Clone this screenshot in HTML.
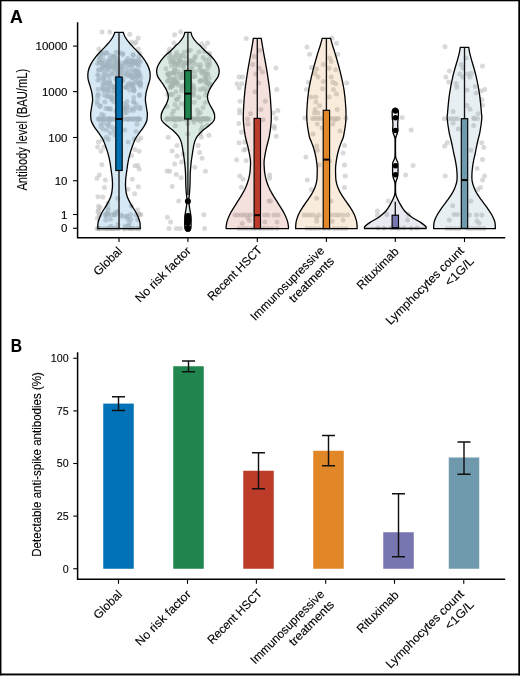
<!DOCTYPE html>
<html><head><meta charset="utf-8"><style>
html,body{margin:0;padding:0;background:#fff;}
svg{display:block;will-change:transform;}
text{font-family:"Liberation Sans", sans-serif;fill:#000;stroke:#000;stroke-width:0.12px;}
</style></head><body>
<svg width="520" height="680" viewBox="0 0 520 680">
<rect x="0" y="0" width="520" height="1.3" fill="#000"/><rect x="0" y="0" width="1.45" height="675.4" fill="#000"/><rect x="518.3" y="0" width="1.7" height="675.4" fill="#000"/><rect x="0" y="673.5" width="520" height="1.9" fill="#000"/>
<text x="10.1" y="22.5" font-size="17.7" font-weight="bold">A</text>
<text x="10.7" y="352.3" font-size="17.7" font-weight="bold" transform="translate(10.7,352.3) scale(0.88,1) translate(-10.7,-352.3)">B</text>
<g fill="#c0c0c0" fill-opacity="0.6">
<circle cx="102.0" cy="32.0" r="2.5"/>
<circle cx="109.7" cy="32.0" r="2.5"/>
<circle cx="129.8" cy="34.3" r="2.5"/>
<circle cx="138.3" cy="38.1" r="2.5"/>
<circle cx="134.5" cy="43.5" r="2.5"/>
<circle cx="131.4" cy="42.0" r="2.5"/>
<circle cx="98.9" cy="49.0" r="2.5"/>
<circle cx="138.3" cy="49.0" r="2.5"/>
<circle cx="139.9" cy="53.6" r="2.5"/>
<circle cx="136.0" cy="42.0" r="2.5"/>
<circle cx="98.5" cy="142.0" r="2.5"/>
<circle cx="97.7" cy="147.0" r="2.5"/>
<circle cx="101.0" cy="151.3" r="2.5"/>
<circle cx="101.9" cy="164.8" r="2.5"/>
<circle cx="99.4" cy="175.0" r="2.5"/>
<circle cx="105.3" cy="180.0" r="2.5"/>
<circle cx="104.4" cy="187.6" r="2.5"/>
<circle cx="102.8" cy="196.9" r="2.5"/>
<circle cx="98.5" cy="206.2" r="2.5"/>
<circle cx="99.4" cy="215.5" r="2.5"/>
<circle cx="138.3" cy="140.3" r="2.5"/>
<circle cx="134.9" cy="149.6" r="2.5"/>
<circle cx="139.1" cy="151.3" r="2.5"/>
<circle cx="131.5" cy="155.5" r="2.5"/>
<circle cx="134.9" cy="165.7" r="2.5"/>
<circle cx="139.1" cy="169.0" r="2.5"/>
<circle cx="132.3" cy="179.2" r="2.5"/>
<circle cx="138.3" cy="186.8" r="2.5"/>
<circle cx="128.1" cy="189.3" r="2.5"/>
<circle cx="103.6" cy="54.6" r="2.5"/>
<circle cx="100.2" cy="57.2" r="2.5"/>
<circle cx="113.1" cy="56.3" r="2.5"/>
<circle cx="119.3" cy="52.5" r="2.5"/>
<circle cx="116.1" cy="52.3" r="2.5"/>
<circle cx="101.0" cy="52.6" r="2.5"/>
<circle cx="133.4" cy="55.4" r="2.5"/>
<circle cx="106.8" cy="53.0" r="2.5"/>
<circle cx="138.7" cy="57.0" r="2.5"/>
<circle cx="114.5" cy="56.6" r="2.5"/>
<circle cx="99.0" cy="59.8" r="2.5"/>
<circle cx="109.7" cy="58.9" r="2.5"/>
<circle cx="102.2" cy="53.2" r="2.5"/>
<circle cx="132.9" cy="54.5" r="2.5"/>
<circle cx="122.6" cy="53.4" r="2.5"/>
<circle cx="113.4" cy="57.1" r="2.5"/>
<circle cx="99.8" cy="56.4" r="2.5"/>
<circle cx="106.1" cy="52.5" r="2.5"/>
<circle cx="115.8" cy="57.4" r="2.5"/>
<circle cx="122.8" cy="54.5" r="2.5"/>
<circle cx="110.2" cy="55.6" r="2.5"/>
<circle cx="127.8" cy="58.4" r="2.5"/>
<circle cx="122.3" cy="66.8" r="2.5"/>
<circle cx="135.5" cy="74.7" r="2.5"/>
<circle cx="109.7" cy="80.4" r="2.5"/>
<circle cx="102.2" cy="87.4" r="2.5"/>
<circle cx="130.3" cy="71.7" r="2.5"/>
<circle cx="118.5" cy="64.3" r="2.5"/>
<circle cx="126.4" cy="61.1" r="2.5"/>
<circle cx="122.2" cy="81.4" r="2.5"/>
<circle cx="110.8" cy="84.5" r="2.5"/>
<circle cx="123.2" cy="79.5" r="2.5"/>
<circle cx="117.1" cy="76.2" r="2.5"/>
<circle cx="138.6" cy="83.5" r="2.5"/>
<circle cx="126.2" cy="73.3" r="2.5"/>
<circle cx="127.9" cy="61.7" r="2.5"/>
<circle cx="140.7" cy="78.1" r="2.5"/>
<circle cx="109.5" cy="83.0" r="2.5"/>
<circle cx="126.4" cy="70.8" r="2.5"/>
<circle cx="117.3" cy="60.6" r="2.5"/>
<circle cx="102.2" cy="64.7" r="2.5"/>
<circle cx="130.8" cy="61.7" r="2.5"/>
<circle cx="107.9" cy="63.6" r="2.5"/>
<circle cx="135.3" cy="70.9" r="2.5"/>
<circle cx="116.8" cy="62.3" r="2.5"/>
<circle cx="135.9" cy="75.4" r="2.5"/>
<circle cx="135.0" cy="82.9" r="2.5"/>
<circle cx="115.3" cy="67.8" r="2.5"/>
<circle cx="135.9" cy="70.0" r="2.5"/>
<circle cx="103.6" cy="86.8" r="2.5"/>
<circle cx="107.2" cy="64.9" r="2.5"/>
<circle cx="118.3" cy="66.5" r="2.5"/>
<circle cx="108.6" cy="76.5" r="2.5"/>
<circle cx="115.4" cy="60.1" r="2.5"/>
<circle cx="121.9" cy="70.3" r="2.5"/>
<circle cx="127.4" cy="86.7" r="2.5"/>
<circle cx="124.2" cy="74.4" r="2.5"/>
<circle cx="99.4" cy="78.9" r="2.5"/>
<circle cx="131.3" cy="85.2" r="2.5"/>
<circle cx="132.1" cy="84.5" r="2.5"/>
<circle cx="114.6" cy="71.0" r="2.5"/>
<circle cx="124.9" cy="62.9" r="2.5"/>
<circle cx="100.0" cy="61.7" r="2.5"/>
<circle cx="104.1" cy="65.8" r="2.5"/>
<circle cx="99.3" cy="69.5" r="2.5"/>
<circle cx="103.7" cy="60.0" r="2.5"/>
<circle cx="113.0" cy="62.8" r="2.5"/>
<circle cx="135.5" cy="60.7" r="2.5"/>
<circle cx="103.5" cy="77.2" r="2.5"/>
<circle cx="112.3" cy="67.1" r="2.5"/>
<circle cx="102.4" cy="70.2" r="2.5"/>
<circle cx="140.7" cy="83.8" r="2.5"/>
<circle cx="118.3" cy="73.0" r="2.5"/>
<circle cx="101.5" cy="62.4" r="2.5"/>
<circle cx="108.6" cy="69.6" r="2.5"/>
<circle cx="104.1" cy="83.2" r="2.5"/>
<circle cx="138.8" cy="60.6" r="2.5"/>
<circle cx="103.5" cy="74.8" r="2.5"/>
<circle cx="98.2" cy="75.2" r="2.5"/>
<circle cx="140.1" cy="74.8" r="2.5"/>
<circle cx="127.6" cy="84.2" r="2.5"/>
<circle cx="113.1" cy="67.3" r="2.5"/>
<circle cx="131.0" cy="64.7" r="2.5"/>
<circle cx="131.3" cy="74.9" r="2.5"/>
<circle cx="106.8" cy="69.2" r="2.5"/>
<circle cx="140.3" cy="82.7" r="2.5"/>
<circle cx="132.5" cy="83.9" r="2.5"/>
<circle cx="129.6" cy="82.9" r="2.5"/>
<circle cx="119.8" cy="66.3" r="2.5"/>
<circle cx="98.3" cy="70.0" r="2.5"/>
<circle cx="109.3" cy="60.8" r="2.5"/>
<circle cx="127.5" cy="67.3" r="2.5"/>
<circle cx="116.7" cy="86.8" r="2.5"/>
<circle cx="140.5" cy="86.2" r="2.5"/>
<circle cx="113.0" cy="86.7" r="2.5"/>
<circle cx="107.0" cy="66.2" r="2.5"/>
<circle cx="106.0" cy="65.5" r="2.5"/>
<circle cx="136.6" cy="77.5" r="2.5"/>
<circle cx="118.1" cy="83.5" r="2.5"/>
<circle cx="132.2" cy="78.3" r="2.5"/>
<circle cx="126.1" cy="62.4" r="2.5"/>
<circle cx="131.4" cy="85.5" r="2.5"/>
<circle cx="118.0" cy="81.0" r="2.5"/>
<circle cx="131.7" cy="65.0" r="2.5"/>
<circle cx="132.2" cy="69.3" r="2.5"/>
<circle cx="114.4" cy="87.2" r="2.5"/>
<circle cx="138.7" cy="71.2" r="2.5"/>
<circle cx="104.5" cy="80.3" r="2.5"/>
<circle cx="103.7" cy="63.6" r="2.5"/>
<circle cx="132.5" cy="85.3" r="2.5"/>
<circle cx="133.4" cy="64.1" r="2.5"/>
<circle cx="125.9" cy="87.4" r="2.5"/>
<circle cx="121.1" cy="69.8" r="2.5"/>
<circle cx="97.6" cy="63.7" r="2.5"/>
<circle cx="125.6" cy="87.2" r="2.5"/>
<circle cx="138.1" cy="74.7" r="2.5"/>
<circle cx="135.4" cy="72.1" r="2.5"/>
<circle cx="106.3" cy="83.1" r="2.5"/>
<circle cx="109.9" cy="67.1" r="2.5"/>
<circle cx="122.8" cy="66.7" r="2.5"/>
<circle cx="115.4" cy="67.3" r="2.5"/>
<circle cx="137.0" cy="63.7" r="2.5"/>
<circle cx="117.2" cy="69.9" r="2.5"/>
<circle cx="136.8" cy="76.3" r="2.5"/>
<circle cx="137.4" cy="71.8" r="2.5"/>
<circle cx="120.4" cy="74.0" r="2.5"/>
<circle cx="97.8" cy="74.7" r="2.5"/>
<circle cx="105.1" cy="72.3" r="2.5"/>
<circle cx="132.2" cy="60.1" r="2.5"/>
<circle cx="117.8" cy="64.8" r="2.5"/>
<circle cx="121.5" cy="80.3" r="2.5"/>
<circle cx="119.8" cy="69.1" r="2.5"/>
<circle cx="131.5" cy="75.6" r="2.5"/>
<circle cx="121.7" cy="63.0" r="2.5"/>
<circle cx="109.2" cy="67.0" r="2.5"/>
<circle cx="119.3" cy="81.6" r="2.5"/>
<circle cx="130.4" cy="75.7" r="2.5"/>
<circle cx="116.5" cy="85.5" r="2.5"/>
<circle cx="119.2" cy="77.2" r="2.5"/>
<circle cx="127.5" cy="74.3" r="2.5"/>
<circle cx="120.5" cy="72.7" r="2.5"/>
<circle cx="138.4" cy="73.4" r="2.5"/>
<circle cx="135.6" cy="79.6" r="2.5"/>
<circle cx="108.4" cy="86.4" r="2.5"/>
<circle cx="138.5" cy="75.7" r="2.5"/>
<circle cx="103.0" cy="83.5" r="2.5"/>
<circle cx="116.5" cy="63.4" r="2.5"/>
<circle cx="107.6" cy="62.0" r="2.5"/>
<circle cx="126.5" cy="62.0" r="2.5"/>
<circle cx="136.5" cy="82.0" r="2.5"/>
<circle cx="128.5" cy="64.3" r="2.5"/>
<circle cx="103.3" cy="78.5" r="2.5"/>
<circle cx="139.6" cy="84.7" r="2.5"/>
<circle cx="138.9" cy="66.1" r="2.5"/>
<circle cx="118.4" cy="71.2" r="2.5"/>
<circle cx="133.6" cy="87.7" r="2.5"/>
<circle cx="116.0" cy="64.5" r="2.5"/>
<circle cx="111.9" cy="74.4" r="2.5"/>
<circle cx="111.0" cy="65.5" r="2.5"/>
<circle cx="97.9" cy="80.2" r="2.5"/>
<circle cx="116.4" cy="75.5" r="2.5"/>
<circle cx="111.6" cy="60.5" r="2.5"/>
<circle cx="119.5" cy="77.5" r="2.5"/>
<circle cx="140.3" cy="61.8" r="2.5"/>
<circle cx="139.8" cy="82.1" r="2.5"/>
<circle cx="108.7" cy="62.9" r="2.5"/>
<circle cx="131.3" cy="61.1" r="2.5"/>
<circle cx="102.7" cy="67.6" r="2.5"/>
<circle cx="137.1" cy="71.8" r="2.5"/>
<circle cx="108.4" cy="82.9" r="2.5"/>
<circle cx="137.4" cy="64.2" r="2.5"/>
<circle cx="127.8" cy="76.0" r="2.5"/>
<circle cx="99.5" cy="62.5" r="2.5"/>
<circle cx="115.7" cy="79.3" r="2.5"/>
<circle cx="138.3" cy="62.0" r="2.5"/>
<circle cx="132.3" cy="77.8" r="2.5"/>
<circle cx="134.7" cy="62.3" r="2.5"/>
<circle cx="135.0" cy="61.9" r="2.5"/>
<circle cx="111.9" cy="72.7" r="2.5"/>
<circle cx="137.8" cy="75.5" r="2.5"/>
<circle cx="102.7" cy="67.5" r="2.5"/>
<circle cx="107.5" cy="74.8" r="2.5"/>
<circle cx="104.1" cy="91.1" r="2.5"/>
<circle cx="105.9" cy="89.4" r="2.5"/>
<circle cx="110.4" cy="96.7" r="2.5"/>
<circle cx="109.8" cy="109.3" r="2.5"/>
<circle cx="104.8" cy="102.0" r="2.5"/>
<circle cx="97.8" cy="97.7" r="2.5"/>
<circle cx="97.7" cy="95.0" r="2.5"/>
<circle cx="121.2" cy="108.5" r="2.5"/>
<circle cx="117.9" cy="93.3" r="2.5"/>
<circle cx="101.7" cy="114.2" r="2.5"/>
<circle cx="116.0" cy="110.9" r="2.5"/>
<circle cx="133.7" cy="101.9" r="2.5"/>
<circle cx="119.3" cy="99.0" r="2.5"/>
<circle cx="140.2" cy="107.3" r="2.5"/>
<circle cx="133.6" cy="97.6" r="2.5"/>
<circle cx="125.0" cy="107.8" r="2.5"/>
<circle cx="112.3" cy="99.3" r="2.5"/>
<circle cx="102.7" cy="89.5" r="2.5"/>
<circle cx="129.6" cy="90.0" r="2.5"/>
<circle cx="104.2" cy="95.2" r="2.5"/>
<circle cx="134.0" cy="90.4" r="2.5"/>
<circle cx="126.5" cy="112.4" r="2.5"/>
<circle cx="107.7" cy="95.9" r="2.5"/>
<circle cx="117.2" cy="96.2" r="2.5"/>
<circle cx="116.6" cy="92.4" r="2.5"/>
<circle cx="139.3" cy="95.4" r="2.5"/>
<circle cx="121.1" cy="115.2" r="2.5"/>
<circle cx="139.5" cy="94.8" r="2.5"/>
<circle cx="112.7" cy="96.7" r="2.5"/>
<circle cx="113.8" cy="88.0" r="2.5"/>
<circle cx="119.1" cy="101.3" r="2.5"/>
<circle cx="119.2" cy="93.6" r="2.5"/>
<circle cx="108.6" cy="88.1" r="2.5"/>
<circle cx="114.6" cy="90.5" r="2.5"/>
<circle cx="98.0" cy="89.2" r="2.5"/>
<circle cx="107.2" cy="96.5" r="2.5"/>
<circle cx="120.3" cy="104.4" r="2.5"/>
<circle cx="125.9" cy="109.0" r="2.5"/>
<circle cx="135.7" cy="108.0" r="2.5"/>
<circle cx="111.3" cy="98.9" r="2.5"/>
<circle cx="103.6" cy="115.6" r="2.5"/>
<circle cx="125.3" cy="108.3" r="2.5"/>
<circle cx="133.8" cy="89.2" r="2.5"/>
<circle cx="124.6" cy="113.0" r="2.5"/>
<circle cx="132.7" cy="108.5" r="2.5"/>
<circle cx="120.0" cy="91.9" r="2.5"/>
<circle cx="133.7" cy="102.1" r="2.5"/>
<circle cx="133.4" cy="110.5" r="2.5"/>
<circle cx="136.3" cy="104.4" r="2.5"/>
<circle cx="127.5" cy="107.1" r="2.5"/>
<circle cx="98.4" cy="94.4" r="2.5"/>
<circle cx="112.9" cy="91.7" r="2.5"/>
<circle cx="133.8" cy="90.9" r="2.5"/>
<circle cx="124.6" cy="103.6" r="2.5"/>
<circle cx="126.9" cy="105.5" r="2.5"/>
<circle cx="97.1" cy="101.7" r="2.5"/>
<circle cx="129.9" cy="110.3" r="2.5"/>
<circle cx="120.5" cy="102.1" r="2.5"/>
<circle cx="99.9" cy="106.5" r="2.5"/>
<circle cx="108.1" cy="108.6" r="2.5"/>
<circle cx="108.7" cy="90.1" r="2.5"/>
<circle cx="106.0" cy="108.4" r="2.5"/>
<circle cx="139.9" cy="108.7" r="2.5"/>
<circle cx="113.8" cy="101.8" r="2.5"/>
<circle cx="127.1" cy="101.4" r="2.5"/>
<circle cx="124.1" cy="109.5" r="2.5"/>
<circle cx="100.4" cy="106.0" r="2.5"/>
<circle cx="108.2" cy="92.1" r="2.5"/>
<circle cx="110.4" cy="108.8" r="2.5"/>
<circle cx="97.5" cy="103.9" r="2.5"/>
<circle cx="108.8" cy="118.8" r="2.5"/>
<circle cx="127.5" cy="119.1" r="2.5"/>
<circle cx="109.8" cy="119.1" r="2.5"/>
<circle cx="117.4" cy="119.0" r="2.5"/>
<circle cx="102.2" cy="119.0" r="2.5"/>
<circle cx="105.8" cy="119.2" r="2.5"/>
<circle cx="138.2" cy="119.2" r="2.5"/>
<circle cx="117.2" cy="118.8" r="2.5"/>
<circle cx="139.6" cy="119.1" r="2.5"/>
<circle cx="108.8" cy="119.0" r="2.5"/>
<circle cx="138.6" cy="118.9" r="2.5"/>
<circle cx="122.6" cy="118.9" r="2.5"/>
<circle cx="120.1" cy="118.9" r="2.5"/>
<circle cx="102.8" cy="119.2" r="2.5"/>
<circle cx="119.4" cy="119.1" r="2.5"/>
<circle cx="127.9" cy="119.2" r="2.5"/>
<circle cx="136.5" cy="118.9" r="2.5"/>
<circle cx="98.1" cy="119.0" r="2.5"/>
<circle cx="118.6" cy="118.8" r="2.5"/>
<circle cx="110.3" cy="119.0" r="2.5"/>
<circle cx="112.1" cy="118.9" r="2.5"/>
<circle cx="134.0" cy="118.9" r="2.5"/>
<circle cx="130.0" cy="118.8" r="2.5"/>
<circle cx="102.3" cy="119.1" r="2.5"/>
<circle cx="128.4" cy="119.2" r="2.5"/>
<circle cx="109.8" cy="119.2" r="2.5"/>
<circle cx="114.3" cy="118.9" r="2.5"/>
<circle cx="122.9" cy="119.2" r="2.5"/>
<circle cx="115.8" cy="118.9" r="2.5"/>
<circle cx="99.1" cy="118.9" r="2.5"/>
<circle cx="133.7" cy="118.8" r="2.5"/>
<circle cx="138.2" cy="118.9" r="2.5"/>
<circle cx="108.7" cy="118.9" r="2.5"/>
<circle cx="105.4" cy="119.0" r="2.5"/>
<circle cx="139.1" cy="118.9" r="2.5"/>
<circle cx="132.7" cy="119.2" r="2.5"/>
<circle cx="137.2" cy="119.1" r="2.5"/>
<circle cx="121.2" cy="119.2" r="2.5"/>
<circle cx="99.2" cy="119.1" r="2.5"/>
<circle cx="116.8" cy="119.1" r="2.5"/>
<circle cx="125.4" cy="119.1" r="2.5"/>
<circle cx="99.2" cy="118.9" r="2.5"/>
<circle cx="102.6" cy="119.2" r="2.5"/>
<circle cx="112.1" cy="119.0" r="2.5"/>
<circle cx="129.5" cy="118.9" r="2.5"/>
<circle cx="108.4" cy="139.5" r="2.5"/>
<circle cx="110.2" cy="133.1" r="2.5"/>
<circle cx="114.4" cy="131.1" r="2.5"/>
<circle cx="104.1" cy="123.3" r="2.5"/>
<circle cx="136.9" cy="124.2" r="2.5"/>
<circle cx="106.7" cy="129.9" r="2.5"/>
<circle cx="140.8" cy="138.1" r="2.5"/>
<circle cx="103.1" cy="129.0" r="2.5"/>
<circle cx="101.0" cy="123.8" r="2.5"/>
<circle cx="101.0" cy="126.8" r="2.5"/>
<circle cx="108.4" cy="124.8" r="2.5"/>
<circle cx="136.0" cy="131.4" r="2.5"/>
<circle cx="115.2" cy="135.0" r="2.5"/>
<circle cx="120.1" cy="128.3" r="2.5"/>
<circle cx="111.9" cy="127.5" r="2.5"/>
<circle cx="109.2" cy="121.2" r="2.5"/>
<circle cx="102.5" cy="139.4" r="2.5"/>
<circle cx="124.7" cy="130.1" r="2.5"/>
<circle cx="106.5" cy="137.3" r="2.5"/>
<circle cx="107.9" cy="125.4" r="2.5"/>
<circle cx="116.6" cy="128.0" r="2.5"/>
<circle cx="134.3" cy="139.1" r="2.5"/>
<circle cx="98.0" cy="196.7" r="2.5"/>
<circle cx="128.2" cy="142.1" r="2.5"/>
<circle cx="117.8" cy="198.2" r="2.5"/>
<circle cx="97.0" cy="178.2" r="2.5"/>
<circle cx="137.8" cy="165.4" r="2.5"/>
<circle cx="134.6" cy="193.7" r="2.5"/>
<circle cx="107.9" cy="203.2" r="2.5"/>
<circle cx="103.8" cy="147.1" r="2.5"/>
<circle cx="127.0" cy="216.5" r="2.5"/>
<circle cx="128.8" cy="225.7" r="2.5"/>
<circle cx="130.7" cy="219.2" r="2.5"/>
<circle cx="121.3" cy="215.1" r="2.5"/>
<circle cx="131.4" cy="205.9" r="2.5"/>
<circle cx="137.5" cy="210.1" r="2.5"/>
<circle cx="110.4" cy="219.2" r="2.5"/>
<circle cx="108.1" cy="207.8" r="2.5"/>
<circle cx="127.7" cy="219.0" r="2.5"/>
<circle cx="100.1" cy="207.5" r="2.5"/>
<circle cx="122.6" cy="216.5" r="2.5"/>
<circle cx="106.8" cy="213.5" r="2.5"/>
<circle cx="97.5" cy="218.2" r="2.5"/>
<circle cx="117.3" cy="211.6" r="2.5"/>
<circle cx="125.4" cy="226.1" r="2.5"/>
<circle cx="117.9" cy="224.4" r="2.5"/>
<circle cx="107.9" cy="210.2" r="2.5"/>
<circle cx="128.0" cy="226.1" r="2.5"/>
<circle cx="98.0" cy="211.8" r="2.5"/>
<circle cx="126.7" cy="216.0" r="2.5"/>
<circle cx="108.3" cy="214.2" r="2.5"/>
<circle cx="137.7" cy="219.7" r="2.5"/>
<circle cx="98.5" cy="210.0" r="2.5"/>
<circle cx="115.5" cy="212.4" r="2.5"/>
<circle cx="105.7" cy="220.0" r="2.5"/>
<circle cx="129.5" cy="222.5" r="2.5"/>
<circle cx="106.0" cy="216.1" r="2.5"/>
<circle cx="110.7" cy="226.3" r="2.5"/>
<circle cx="107.2" cy="214.6" r="2.5"/>
<circle cx="130.5" cy="214.4" r="2.5"/>
<circle cx="138.9" cy="214.4" r="2.5"/>
<circle cx="105.2" cy="214.5" r="2.5"/>
<circle cx="115.3" cy="214.4" r="2.5"/>
<circle cx="138.7" cy="214.6" r="2.5"/>
<circle cx="114.3" cy="214.4" r="2.5"/>
<circle cx="139.9" cy="214.4" r="2.5"/>
<circle cx="99.3" cy="214.4" r="2.5"/>
<circle cx="114.3" cy="214.3" r="2.5"/>
<circle cx="135.9" cy="214.7" r="2.5"/>
<circle cx="140.9" cy="214.6" r="2.5"/>
<circle cx="111.5" cy="214.7" r="2.5"/>
<circle cx="138.2" cy="214.4" r="2.5"/>
<circle cx="98.4" cy="228.6" r="2.5"/>
<circle cx="113.7" cy="228.6" r="2.5"/>
<circle cx="111.6" cy="228.4" r="2.5"/>
<circle cx="97.1" cy="228.4" r="2.5"/>
<circle cx="112.5" cy="228.4" r="2.5"/>
<circle cx="102.4" cy="228.7" r="2.5"/>
<circle cx="106.1" cy="228.7" r="2.5"/>
<circle cx="133.1" cy="228.4" r="2.5"/>
<circle cx="116.0" cy="228.6" r="2.5"/>
<circle cx="117.8" cy="228.3" r="2.5"/>
<circle cx="137.5" cy="228.4" r="2.5"/>
<circle cx="113.0" cy="228.4" r="2.5"/>
<circle cx="98.3" cy="228.7" r="2.5"/>
<circle cx="132.7" cy="228.5" r="2.5"/>
<circle cx="98.8" cy="228.6" r="2.5"/>
<circle cx="99.8" cy="228.3" r="2.5"/>
<circle cx="108.3" cy="228.7" r="2.5"/>
<circle cx="136.5" cy="228.6" r="2.5"/>
<circle cx="109.0" cy="228.4" r="2.5"/>
<circle cx="124.1" cy="228.7" r="2.5"/>
<circle cx="128.5" cy="228.4" r="2.5"/>
<circle cx="109.1" cy="228.4" r="2.5"/>
<circle cx="130.2" cy="228.3" r="2.5"/>
<circle cx="124.9" cy="228.7" r="2.5"/>
<circle cx="98.1" cy="228.7" r="2.5"/>
<circle cx="117.9" cy="228.4" r="2.5"/>
<circle cx="139.0" cy="228.7" r="2.5"/>
<circle cx="108.0" cy="228.5" r="2.5"/>
<circle cx="118.7" cy="228.5" r="2.5"/>
<circle cx="105.0" cy="228.7" r="2.5"/>
<circle cx="129.5" cy="228.6" r="2.5"/>
<circle cx="131.0" cy="228.6" r="2.5"/>
<circle cx="111.4" cy="228.5" r="2.5"/>
<circle cx="112.9" cy="228.4" r="2.5"/>
<circle cx="174.7" cy="34.7" r="2.5"/>
<circle cx="180.7" cy="31.7" r="2.5"/>
<circle cx="174.0" cy="43.0" r="2.5"/>
<circle cx="169.5" cy="49.0" r="2.5"/>
<circle cx="201.7" cy="43.7" r="2.5"/>
<circle cx="207.7" cy="43.0" r="2.5"/>
<circle cx="204.7" cy="46.7" r="2.5"/>
<circle cx="168.2" cy="137.3" r="2.5"/>
<circle cx="177.1" cy="145.4" r="2.5"/>
<circle cx="172.2" cy="151.0" r="2.5"/>
<circle cx="177.1" cy="155.9" r="2.5"/>
<circle cx="174.7" cy="163.9" r="2.5"/>
<circle cx="176.3" cy="174.4" r="2.5"/>
<circle cx="181.1" cy="177.7" r="2.5"/>
<circle cx="172.2" cy="186.6" r="2.5"/>
<circle cx="178.7" cy="201.1" r="2.5"/>
<circle cx="167.4" cy="217.3" r="2.5"/>
<circle cx="170.6" cy="222.1" r="2.5"/>
<circle cx="169.0" cy="228.6" r="2.5"/>
<circle cx="176.3" cy="228.6" r="2.5"/>
<circle cx="180.3" cy="228.6" r="2.5"/>
<circle cx="201.3" cy="137.3" r="2.5"/>
<circle cx="198.1" cy="145.4" r="2.5"/>
<circle cx="199.7" cy="152.6" r="2.5"/>
<circle cx="202.1" cy="158.3" r="2.5"/>
<circle cx="194.9" cy="167.2" r="2.5"/>
<circle cx="205.4" cy="171.2" r="2.5"/>
<circle cx="203.8" cy="214.8" r="2.5"/>
<circle cx="204.6" cy="228.6" r="2.5"/>
<circle cx="169.4" cy="57.8" r="2.5"/>
<circle cx="199.0" cy="52.0" r="2.5"/>
<circle cx="168.7" cy="52.5" r="2.5"/>
<circle cx="190.2" cy="50.3" r="2.5"/>
<circle cx="209.0" cy="53.3" r="2.5"/>
<circle cx="209.4" cy="58.8" r="2.5"/>
<circle cx="169.6" cy="52.6" r="2.5"/>
<circle cx="187.8" cy="51.0" r="2.5"/>
<circle cx="185.6" cy="57.1" r="2.5"/>
<circle cx="184.2" cy="52.3" r="2.5"/>
<circle cx="195.6" cy="56.2" r="2.5"/>
<circle cx="203.2" cy="57.5" r="2.5"/>
<circle cx="171.2" cy="56.6" r="2.5"/>
<circle cx="178.8" cy="58.4" r="2.5"/>
<circle cx="182.3" cy="55.7" r="2.5"/>
<circle cx="174.7" cy="57.4" r="2.5"/>
<circle cx="176.7" cy="52.5" r="2.5"/>
<circle cx="204.8" cy="51.5" r="2.5"/>
<circle cx="180.3" cy="55.8" r="2.5"/>
<circle cx="209.6" cy="54.0" r="2.5"/>
<circle cx="176.1" cy="55.1" r="2.5"/>
<circle cx="194.6" cy="58.1" r="2.5"/>
<circle cx="170.4" cy="87.7" r="2.5"/>
<circle cx="201.9" cy="73.3" r="2.5"/>
<circle cx="206.1" cy="83.5" r="2.5"/>
<circle cx="178.8" cy="61.1" r="2.5"/>
<circle cx="174.2" cy="63.3" r="2.5"/>
<circle cx="191.6" cy="87.2" r="2.5"/>
<circle cx="182.3" cy="86.0" r="2.5"/>
<circle cx="185.7" cy="84.3" r="2.5"/>
<circle cx="200.1" cy="67.3" r="2.5"/>
<circle cx="170.6" cy="86.5" r="2.5"/>
<circle cx="193.2" cy="76.7" r="2.5"/>
<circle cx="182.1" cy="66.1" r="2.5"/>
<circle cx="174.9" cy="64.0" r="2.5"/>
<circle cx="192.3" cy="67.1" r="2.5"/>
<circle cx="174.9" cy="78.2" r="2.5"/>
<circle cx="180.3" cy="60.3" r="2.5"/>
<circle cx="174.0" cy="79.0" r="2.5"/>
<circle cx="174.8" cy="68.7" r="2.5"/>
<circle cx="190.0" cy="82.3" r="2.5"/>
<circle cx="170.4" cy="61.8" r="2.5"/>
<circle cx="190.1" cy="71.1" r="2.5"/>
<circle cx="169.9" cy="77.9" r="2.5"/>
<circle cx="196.5" cy="64.6" r="2.5"/>
<circle cx="178.4" cy="71.5" r="2.5"/>
<circle cx="207.8" cy="68.6" r="2.5"/>
<circle cx="190.8" cy="68.7" r="2.5"/>
<circle cx="184.2" cy="70.0" r="2.5"/>
<circle cx="209.8" cy="84.2" r="2.5"/>
<circle cx="174.6" cy="70.2" r="2.5"/>
<circle cx="174.9" cy="80.4" r="2.5"/>
<circle cx="205.6" cy="60.2" r="2.5"/>
<circle cx="202.0" cy="71.9" r="2.5"/>
<circle cx="204.7" cy="71.4" r="2.5"/>
<circle cx="173.1" cy="72.9" r="2.5"/>
<circle cx="190.2" cy="60.4" r="2.5"/>
<circle cx="205.9" cy="77.9" r="2.5"/>
<circle cx="193.3" cy="62.5" r="2.5"/>
<circle cx="188.1" cy="70.4" r="2.5"/>
<circle cx="178.4" cy="64.1" r="2.5"/>
<circle cx="206.6" cy="74.6" r="2.5"/>
<circle cx="187.5" cy="63.0" r="2.5"/>
<circle cx="208.4" cy="82.5" r="2.5"/>
<circle cx="171.5" cy="65.5" r="2.5"/>
<circle cx="208.8" cy="86.4" r="2.5"/>
<circle cx="168.2" cy="73.5" r="2.5"/>
<circle cx="183.0" cy="85.9" r="2.5"/>
<circle cx="193.2" cy="85.3" r="2.5"/>
<circle cx="173.0" cy="83.1" r="2.5"/>
<circle cx="175.7" cy="82.0" r="2.5"/>
<circle cx="203.1" cy="71.3" r="2.5"/>
<circle cx="174.0" cy="83.2" r="2.5"/>
<circle cx="183.5" cy="66.1" r="2.5"/>
<circle cx="182.8" cy="74.5" r="2.5"/>
<circle cx="176.8" cy="63.4" r="2.5"/>
<circle cx="205.4" cy="80.3" r="2.5"/>
<circle cx="190.6" cy="61.2" r="2.5"/>
<circle cx="167.6" cy="81.2" r="2.5"/>
<circle cx="171.1" cy="83.5" r="2.5"/>
<circle cx="190.1" cy="76.8" r="2.5"/>
<circle cx="179.4" cy="77.6" r="2.5"/>
<circle cx="191.5" cy="71.8" r="2.5"/>
<circle cx="194.9" cy="71.9" r="2.5"/>
<circle cx="185.2" cy="72.5" r="2.5"/>
<circle cx="193.1" cy="60.7" r="2.5"/>
<circle cx="176.3" cy="73.7" r="2.5"/>
<circle cx="200.2" cy="81.4" r="2.5"/>
<circle cx="173.8" cy="72.8" r="2.5"/>
<circle cx="170.6" cy="73.3" r="2.5"/>
<circle cx="184.8" cy="63.6" r="2.5"/>
<circle cx="185.3" cy="62.6" r="2.5"/>
<circle cx="167.7" cy="74.3" r="2.5"/>
<circle cx="169.5" cy="77.8" r="2.5"/>
<circle cx="200.1" cy="80.5" r="2.5"/>
<circle cx="168.3" cy="74.3" r="2.5"/>
<circle cx="182.5" cy="74.1" r="2.5"/>
<circle cx="171.9" cy="86.6" r="2.5"/>
<circle cx="209.7" cy="84.0" r="2.5"/>
<circle cx="201.8" cy="80.5" r="2.5"/>
<circle cx="209.1" cy="65.4" r="2.5"/>
<circle cx="208.0" cy="73.8" r="2.5"/>
<circle cx="173.2" cy="85.6" r="2.5"/>
<circle cx="206.8" cy="82.1" r="2.5"/>
<circle cx="181.3" cy="61.8" r="2.5"/>
<circle cx="172.9" cy="81.2" r="2.5"/>
<circle cx="178.0" cy="85.1" r="2.5"/>
<circle cx="172.2" cy="82.8" r="2.5"/>
<circle cx="206.4" cy="74.1" r="2.5"/>
<circle cx="177.5" cy="65.8" r="2.5"/>
<circle cx="179.9" cy="74.2" r="2.5"/>
<circle cx="173.9" cy="61.0" r="2.5"/>
<circle cx="207.1" cy="64.5" r="2.5"/>
<circle cx="205.3" cy="79.0" r="2.5"/>
<circle cx="200.4" cy="64.7" r="2.5"/>
<circle cx="189.3" cy="63.2" r="2.5"/>
<circle cx="181.7" cy="77.8" r="2.5"/>
<circle cx="190.3" cy="84.4" r="2.5"/>
<circle cx="204.7" cy="76.2" r="2.5"/>
<circle cx="209.6" cy="62.9" r="2.5"/>
<circle cx="183.2" cy="77.6" r="2.5"/>
<circle cx="177.5" cy="82.3" r="2.5"/>
<circle cx="191.3" cy="87.7" r="2.5"/>
<circle cx="199.5" cy="70.1" r="2.5"/>
<circle cx="173.7" cy="72.4" r="2.5"/>
<circle cx="168.0" cy="80.8" r="2.5"/>
<circle cx="177.1" cy="83.0" r="2.5"/>
<circle cx="209.2" cy="77.9" r="2.5"/>
<circle cx="195.1" cy="76.4" r="2.5"/>
<circle cx="166.0" cy="68.8" r="2.5"/>
<circle cx="172.5" cy="60.9" r="2.5"/>
<circle cx="184.9" cy="77.2" r="2.5"/>
<circle cx="205.3" cy="102.4" r="2.5"/>
<circle cx="175.9" cy="91.7" r="2.5"/>
<circle cx="166.9" cy="106.3" r="2.5"/>
<circle cx="181.5" cy="88.1" r="2.5"/>
<circle cx="181.6" cy="91.0" r="2.5"/>
<circle cx="191.6" cy="94.3" r="2.5"/>
<circle cx="174.9" cy="104.5" r="2.5"/>
<circle cx="186.8" cy="105.5" r="2.5"/>
<circle cx="207.1" cy="91.8" r="2.5"/>
<circle cx="172.5" cy="94.8" r="2.5"/>
<circle cx="194.0" cy="90.7" r="2.5"/>
<circle cx="200.3" cy="112.4" r="2.5"/>
<circle cx="177.5" cy="99.3" r="2.5"/>
<circle cx="194.3" cy="88.3" r="2.5"/>
<circle cx="181.3" cy="103.7" r="2.5"/>
<circle cx="185.4" cy="106.1" r="2.5"/>
<circle cx="198.2" cy="114.2" r="2.5"/>
<circle cx="205.7" cy="95.0" r="2.5"/>
<circle cx="189.3" cy="89.2" r="2.5"/>
<circle cx="176.4" cy="99.4" r="2.5"/>
<circle cx="200.2" cy="89.6" r="2.5"/>
<circle cx="190.1" cy="88.3" r="2.5"/>
<circle cx="172.2" cy="114.3" r="2.5"/>
<circle cx="192.7" cy="93.6" r="2.5"/>
<circle cx="194.1" cy="102.2" r="2.5"/>
<circle cx="173.6" cy="110.8" r="2.5"/>
<circle cx="179.1" cy="96.7" r="2.5"/>
<circle cx="205.0" cy="89.4" r="2.5"/>
<circle cx="197.4" cy="109.9" r="2.5"/>
<circle cx="203.1" cy="88.2" r="2.5"/>
<circle cx="186.4" cy="108.9" r="2.5"/>
<circle cx="185.8" cy="108.8" r="2.5"/>
<circle cx="170.5" cy="94.3" r="2.5"/>
<circle cx="167.6" cy="94.5" r="2.5"/>
<circle cx="198.9" cy="97.4" r="2.5"/>
<circle cx="203.1" cy="107.5" r="2.5"/>
<circle cx="177.6" cy="107.9" r="2.5"/>
<circle cx="185.1" cy="103.5" r="2.5"/>
<circle cx="188.9" cy="110.1" r="2.5"/>
<circle cx="194.1" cy="95.4" r="2.5"/>
<circle cx="175.4" cy="119.2" r="2.5"/>
<circle cx="166.6" cy="119.2" r="2.5"/>
<circle cx="176.3" cy="118.9" r="2.5"/>
<circle cx="207.5" cy="119.1" r="2.5"/>
<circle cx="180.3" cy="119.1" r="2.5"/>
<circle cx="180.4" cy="119.2" r="2.5"/>
<circle cx="205.8" cy="118.9" r="2.5"/>
<circle cx="196.4" cy="119.1" r="2.5"/>
<circle cx="209.0" cy="119.1" r="2.5"/>
<circle cx="202.8" cy="119.0" r="2.5"/>
<circle cx="203.6" cy="119.1" r="2.5"/>
<circle cx="197.8" cy="119.0" r="2.5"/>
<circle cx="179.4" cy="119.0" r="2.5"/>
<circle cx="193.3" cy="118.9" r="2.5"/>
<circle cx="206.0" cy="118.8" r="2.5"/>
<circle cx="167.1" cy="118.9" r="2.5"/>
<circle cx="206.8" cy="118.8" r="2.5"/>
<circle cx="172.1" cy="118.9" r="2.5"/>
<circle cx="167.7" cy="118.8" r="2.5"/>
<circle cx="193.8" cy="119.1" r="2.5"/>
<circle cx="198.3" cy="119.1" r="2.5"/>
<circle cx="191.9" cy="118.8" r="2.5"/>
<circle cx="201.9" cy="118.9" r="2.5"/>
<circle cx="205.1" cy="119.1" r="2.5"/>
<circle cx="204.1" cy="118.8" r="2.5"/>
<circle cx="207.5" cy="119.2" r="2.5"/>
<circle cx="175.0" cy="118.8" r="2.5"/>
<circle cx="167.4" cy="118.8" r="2.5"/>
<circle cx="201.6" cy="119.1" r="2.5"/>
<circle cx="202.2" cy="119.1" r="2.5"/>
<circle cx="178.5" cy="119.1" r="2.5"/>
<circle cx="170.2" cy="118.8" r="2.5"/>
<circle cx="174.9" cy="119.1" r="2.5"/>
<circle cx="184.5" cy="118.9" r="2.5"/>
<circle cx="177.2" cy="118.8" r="2.5"/>
<circle cx="197.4" cy="118.9" r="2.5"/>
<circle cx="180.0" cy="118.9" r="2.5"/>
<circle cx="188.1" cy="119.2" r="2.5"/>
<circle cx="193.1" cy="119.1" r="2.5"/>
<circle cx="184.1" cy="118.8" r="2.5"/>
<circle cx="199.9" cy="119.0" r="2.5"/>
<circle cx="196.9" cy="118.9" r="2.5"/>
<circle cx="175.4" cy="119.0" r="2.5"/>
<circle cx="169.9" cy="119.1" r="2.5"/>
<circle cx="173.4" cy="119.1" r="2.5"/>
<circle cx="174.8" cy="120.0" r="2.5"/>
<circle cx="208.9" cy="135.2" r="2.5"/>
<circle cx="187.5" cy="120.1" r="2.5"/>
<circle cx="201.0" cy="129.8" r="2.5"/>
<circle cx="187.7" cy="123.7" r="2.5"/>
<circle cx="202.5" cy="126.9" r="2.5"/>
<circle cx="207.4" cy="125.2" r="2.5"/>
<circle cx="175.3" cy="125.7" r="2.5"/>
<circle cx="187.8" cy="134.0" r="2.5"/>
<circle cx="193.9" cy="122.2" r="2.5"/>
<circle cx="200.6" cy="121.6" r="2.5"/>
<circle cx="200.5" cy="133.9" r="2.5"/>
<circle cx="181.5" cy="162.0" r="2.5"/>
<circle cx="183.3" cy="154.0" r="2.5"/>
<circle cx="169.7" cy="171.2" r="2.5"/>
<circle cx="167.0" cy="171.1" r="2.5"/>
<circle cx="246.2" cy="38.5" r="2.5"/>
<circle cx="275.9" cy="67.9" r="2.5"/>
<circle cx="239.1" cy="77.1" r="2.5"/>
<circle cx="242.5" cy="77.1" r="2.5"/>
<circle cx="237.0" cy="83.7" r="2.5"/>
<circle cx="241.8" cy="83.7" r="2.5"/>
<circle cx="239.1" cy="88.1" r="2.5"/>
<circle cx="276.8" cy="89.6" r="2.5"/>
<circle cx="240.0" cy="101.3" r="2.5"/>
<circle cx="239.6" cy="110.1" r="2.5"/>
<circle cx="239.6" cy="113.1" r="2.5"/>
<circle cx="277.8" cy="110.6" r="2.5"/>
<circle cx="273.4" cy="113.1" r="2.5"/>
<circle cx="275.9" cy="118.2" r="2.5"/>
<circle cx="238.8" cy="123.4" r="2.5"/>
<circle cx="274.1" cy="126.3" r="2.5"/>
<circle cx="254.3" cy="56.5" r="2.5"/>
<circle cx="259.4" cy="50.6" r="2.5"/>
<circle cx="252.8" cy="64.6" r="2.5"/>
<circle cx="259.4" cy="68.2" r="2.5"/>
<circle cx="262.4" cy="71.9" r="2.5"/>
<circle cx="255.7" cy="74.1" r="2.5"/>
<circle cx="258.7" cy="82.9" r="2.5"/>
<circle cx="255.0" cy="91.8" r="2.5"/>
<circle cx="265.3" cy="101.3" r="2.5"/>
<circle cx="260.9" cy="109.4" r="2.5"/>
<circle cx="250.6" cy="113.8" r="2.5"/>
<circle cx="247.6" cy="119.0" r="2.5"/>
<circle cx="263.1" cy="119.7" r="2.5"/>
<circle cx="248.0" cy="124.0" r="2.5"/>
<circle cx="241.4" cy="132.3" r="2.5"/>
<circle cx="274.5" cy="128.2" r="2.5"/>
<circle cx="276.2" cy="136.3" r="2.5"/>
<circle cx="239.0" cy="142.8" r="2.5"/>
<circle cx="244.6" cy="142.0" r="2.5"/>
<circle cx="243.8" cy="150.1" r="2.5"/>
<circle cx="245.4" cy="149.2" r="2.5"/>
<circle cx="236.5" cy="159.8" r="2.5"/>
<circle cx="246.2" cy="160.6" r="2.5"/>
<circle cx="239.8" cy="175.9" r="2.5"/>
<circle cx="243.0" cy="179.2" r="2.5"/>
<circle cx="269.7" cy="175.1" r="2.5"/>
<circle cx="269.7" cy="178.3" r="2.5"/>
<circle cx="241.4" cy="187.2" r="2.5"/>
<circle cx="268.9" cy="201.0" r="2.5"/>
<circle cx="270.5" cy="201.0" r="2.5"/>
<circle cx="235.0" cy="215.0" r="2.5"/>
<circle cx="238.0" cy="215.0" r="2.5"/>
<circle cx="241.5" cy="215.0" r="2.5"/>
<circle cx="244.5" cy="215.0" r="2.5"/>
<circle cx="247.5" cy="215.0" r="2.5"/>
<circle cx="250.5" cy="215.0" r="2.5"/>
<circle cx="264.5" cy="215.0" r="2.5"/>
<circle cx="268.0" cy="215.0" r="2.5"/>
<circle cx="274.0" cy="215.0" r="2.5"/>
<circle cx="278.0" cy="215.0" r="2.5"/>
<circle cx="247.9" cy="218.0" r="2.5"/>
<circle cx="249.5" cy="220.4" r="2.5"/>
<circle cx="242.2" cy="223.6" r="2.5"/>
<circle cx="264.8" cy="222.0" r="2.5"/>
<circle cx="277.0" cy="222.0" r="2.5"/>
<circle cx="239.0" cy="228.5" r="2.5"/>
<circle cx="243.0" cy="228.5" r="2.5"/>
<circle cx="247.0" cy="228.5" r="2.5"/>
<circle cx="251.0" cy="228.5" r="2.5"/>
<circle cx="255.0" cy="228.5" r="2.5"/>
<circle cx="260.0" cy="228.5" r="2.5"/>
<circle cx="264.0" cy="228.5" r="2.5"/>
<circle cx="268.0" cy="228.5" r="2.5"/>
<circle cx="272.0" cy="228.5" r="2.5"/>
<circle cx="277.0" cy="228.5" r="2.5"/>
<circle cx="307.0" cy="46.9" r="2.5"/>
<circle cx="309.5" cy="54.3" r="2.5"/>
<circle cx="332.0" cy="38.1" r="2.5"/>
<circle cx="336.4" cy="43.2" r="2.5"/>
<circle cx="337.9" cy="54.3" r="2.5"/>
<circle cx="346.7" cy="82.9" r="2.5"/>
<circle cx="306.3" cy="89.6" r="2.5"/>
<circle cx="346.0" cy="118.2" r="2.5"/>
<circle cx="304.8" cy="118.2" r="2.5"/>
<circle cx="311.4" cy="67.5" r="2.5"/>
<circle cx="308.5" cy="82.2" r="2.5"/>
<circle cx="323.2" cy="64.6" r="2.5"/>
<circle cx="329.8" cy="57.9" r="2.5"/>
<circle cx="331.3" cy="61.6" r="2.5"/>
<circle cx="316.6" cy="69.0" r="2.5"/>
<circle cx="315.1" cy="73.4" r="2.5"/>
<circle cx="318.1" cy="77.1" r="2.5"/>
<circle cx="329.1" cy="68.2" r="2.5"/>
<circle cx="335.7" cy="69.7" r="2.5"/>
<circle cx="331.3" cy="77.1" r="2.5"/>
<circle cx="323.2" cy="81.5" r="2.5"/>
<circle cx="332.8" cy="82.2" r="2.5"/>
<circle cx="335.7" cy="83.7" r="2.5"/>
<circle cx="322.5" cy="88.8" r="2.5"/>
<circle cx="333.5" cy="89.6" r="2.5"/>
<circle cx="336.4" cy="94.0" r="2.5"/>
<circle cx="311.4" cy="96.9" r="2.5"/>
<circle cx="315.9" cy="96.9" r="2.5"/>
<circle cx="329.1" cy="96.9" r="2.5"/>
<circle cx="315.9" cy="102.1" r="2.5"/>
<circle cx="319.5" cy="105.7" r="2.5"/>
<circle cx="315.1" cy="109.4" r="2.5"/>
<circle cx="337.2" cy="109.4" r="2.5"/>
<circle cx="318.1" cy="113.1" r="2.5"/>
<circle cx="314.4" cy="113.1" r="2.5"/>
<circle cx="312.5" cy="118.5" r="2.5"/>
<circle cx="315.0" cy="118.5" r="2.5"/>
<circle cx="318.0" cy="118.5" r="2.5"/>
<circle cx="320.5" cy="118.5" r="2.5"/>
<circle cx="330.5" cy="118.5" r="2.5"/>
<circle cx="333.5" cy="118.5" r="2.5"/>
<circle cx="336.5" cy="118.5" r="2.5"/>
<circle cx="338.5" cy="118.5" r="2.5"/>
<circle cx="335.0" cy="119.7" r="2.5"/>
<circle cx="332.8" cy="124.1" r="2.5"/>
<circle cx="317.3" cy="124.1" r="2.5"/>
<circle cx="322.0" cy="128.0" r="2.5"/>
<circle cx="340.0" cy="131.0" r="2.5"/>
<circle cx="313.0" cy="134.0" r="2.5"/>
<circle cx="305.9" cy="156.9" r="2.5"/>
<circle cx="344.5" cy="145.4" r="2.5"/>
<circle cx="343.1" cy="152.9" r="2.5"/>
<circle cx="344.5" cy="165.0" r="2.5"/>
<circle cx="345.2" cy="175.9" r="2.5"/>
<circle cx="307.2" cy="180.0" r="2.5"/>
<circle cx="344.5" cy="187.4" r="2.5"/>
<circle cx="311.3" cy="189.4" r="2.5"/>
<circle cx="316.7" cy="146.1" r="2.5"/>
<circle cx="317.4" cy="150.2" r="2.5"/>
<circle cx="319.4" cy="165.0" r="2.5"/>
<circle cx="329.6" cy="161.0" r="2.5"/>
<circle cx="316.7" cy="198.2" r="2.5"/>
<circle cx="331.0" cy="200.9" r="2.5"/>
<circle cx="304.0" cy="215.0" r="2.5"/>
<circle cx="307.0" cy="215.0" r="2.5"/>
<circle cx="310.0" cy="215.0" r="2.5"/>
<circle cx="313.5" cy="215.0" r="2.5"/>
<circle cx="319.0" cy="215.0" r="2.5"/>
<circle cx="332.0" cy="215.0" r="2.5"/>
<circle cx="336.0" cy="215.0" r="2.5"/>
<circle cx="339.0" cy="215.0" r="2.5"/>
<circle cx="343.0" cy="215.0" r="2.5"/>
<circle cx="347.5" cy="215.0" r="2.5"/>
<circle cx="316.7" cy="217.8" r="2.5"/>
<circle cx="316.7" cy="221.2" r="2.5"/>
<circle cx="332.3" cy="221.2" r="2.5"/>
<circle cx="343.1" cy="219.9" r="2.5"/>
<circle cx="307.0" cy="228.5" r="2.5"/>
<circle cx="311.0" cy="228.5" r="2.5"/>
<circle cx="315.0" cy="228.5" r="2.5"/>
<circle cx="319.0" cy="228.5" r="2.5"/>
<circle cx="324.0" cy="228.5" r="2.5"/>
<circle cx="329.0" cy="228.5" r="2.5"/>
<circle cx="334.0" cy="228.5" r="2.5"/>
<circle cx="338.0" cy="228.5" r="2.5"/>
<circle cx="342.0" cy="228.5" r="2.5"/>
<circle cx="346.0" cy="228.5" r="2.5"/>
<circle cx="402.2" cy="117.4" r="2.5"/>
<circle cx="411.2" cy="130.1" r="2.5"/>
<circle cx="413.1" cy="165.4" r="2.5"/>
<circle cx="405.6" cy="175.0" r="2.5"/>
<circle cx="388.4" cy="201.1" r="2.5"/>
<circle cx="377.4" cy="211.0" r="2.5"/>
<circle cx="377.4" cy="215.0" r="2.5"/>
<circle cx="408.6" cy="214.6" r="2.5"/>
<circle cx="386.8" cy="214.6" r="2.5"/>
<circle cx="407.6" cy="220.0" r="2.5"/>
<circle cx="378.0" cy="228.0" r="2.5"/>
<circle cx="384.0" cy="228.3" r="2.5"/>
<circle cx="391.0" cy="228.0" r="2.5"/>
<circle cx="399.0" cy="228.2" r="2.5"/>
<circle cx="404.0" cy="228.0" r="2.5"/>
<circle cx="411.0" cy="228.4" r="2.5"/>
<circle cx="417.0" cy="228.0" r="2.5"/>
<circle cx="445.0" cy="46.8" r="2.5"/>
<circle cx="482.5" cy="65.9" r="2.5"/>
<circle cx="449.4" cy="71.0" r="2.5"/>
<circle cx="445.8" cy="76.9" r="2.5"/>
<circle cx="448.7" cy="82.1" r="2.5"/>
<circle cx="484.7" cy="89.4" r="2.5"/>
<circle cx="481.1" cy="90.9" r="2.5"/>
<circle cx="444.3" cy="118.8" r="2.5"/>
<circle cx="481.8" cy="99.7" r="2.5"/>
<circle cx="482.5" cy="104.9" r="2.5"/>
<circle cx="461.2" cy="64.4" r="2.5"/>
<circle cx="462.7" cy="68.1" r="2.5"/>
<circle cx="459.7" cy="74.0" r="2.5"/>
<circle cx="467.8" cy="74.0" r="2.5"/>
<circle cx="471.5" cy="73.2" r="2.5"/>
<circle cx="470.0" cy="76.9" r="2.5"/>
<circle cx="462.7" cy="76.9" r="2.5"/>
<circle cx="456.1" cy="83.5" r="2.5"/>
<circle cx="456.8" cy="87.2" r="2.5"/>
<circle cx="475.2" cy="86.5" r="2.5"/>
<circle cx="467.1" cy="90.1" r="2.5"/>
<circle cx="475.9" cy="93.1" r="2.5"/>
<circle cx="467.1" cy="105.6" r="2.5"/>
<circle cx="470.0" cy="109.3" r="2.5"/>
<circle cx="453.1" cy="111.5" r="2.5"/>
<circle cx="478.1" cy="113.7" r="2.5"/>
<circle cx="473.7" cy="118.1" r="2.5"/>
<circle cx="448.5" cy="118.8" r="2.5"/>
<circle cx="451.6" cy="118.8" r="2.5"/>
<circle cx="454.6" cy="118.8" r="2.5"/>
<circle cx="457.5" cy="118.8" r="2.5"/>
<circle cx="474.4" cy="118.8" r="2.5"/>
<circle cx="477.5" cy="118.8" r="2.5"/>
<circle cx="453.1" cy="123.2" r="2.5"/>
<circle cx="473.7" cy="125.4" r="2.5"/>
<circle cx="458.3" cy="129.1" r="2.5"/>
<circle cx="466.0" cy="58.0" r="2.5"/>
<circle cx="444.6" cy="146.1" r="2.5"/>
<circle cx="447.3" cy="142.7" r="2.5"/>
<circle cx="481.8" cy="142.7" r="2.5"/>
<circle cx="483.8" cy="147.4" r="2.5"/>
<circle cx="482.5" cy="159.6" r="2.5"/>
<circle cx="477.1" cy="168.4" r="2.5"/>
<circle cx="445.2" cy="175.9" r="2.5"/>
<circle cx="484.5" cy="175.9" r="2.5"/>
<circle cx="482.5" cy="180.0" r="2.5"/>
<circle cx="480.4" cy="187.4" r="2.5"/>
<circle cx="477.7" cy="189.4" r="2.5"/>
<circle cx="471.0" cy="150.2" r="2.5"/>
<circle cx="452.7" cy="205.7" r="2.5"/>
<circle cx="471.0" cy="200.9" r="2.5"/>
<circle cx="454.0" cy="214.5" r="2.5"/>
<circle cx="457.4" cy="214.5" r="2.5"/>
<circle cx="469.6" cy="215.1" r="2.5"/>
<circle cx="476.4" cy="215.1" r="2.5"/>
<circle cx="481.8" cy="215.1" r="2.5"/>
<circle cx="449.3" cy="219.9" r="2.5"/>
<circle cx="479.1" cy="223.3" r="2.5"/>
<circle cx="477.0" cy="221.0" r="2.5"/>
<circle cx="447.0" cy="228.5" r="2.5"/>
<circle cx="451.0" cy="228.5" r="2.5"/>
<circle cx="455.0" cy="228.5" r="2.5"/>
<circle cx="459.0" cy="228.5" r="2.5"/>
<circle cx="468.0" cy="228.5" r="2.5"/>
<circle cx="472.0" cy="228.5" r="2.5"/>
<circle cx="476.0" cy="228.5" r="2.5"/>
<circle cx="480.0" cy="228.5" r="2.5"/>
<circle cx="484.0" cy="228.5" r="2.5"/>
</g>
<path d="M123.20,32.30 C123.50,33.03 124.05,35.02 125.00,36.70 C125.95,38.38 127.13,40.25 128.90,42.40 C130.67,44.55 133.37,47.20 135.60,49.60 C137.83,52.00 140.38,54.38 142.30,56.80 C144.22,59.22 145.85,61.68 147.10,64.10 C148.35,66.52 149.32,68.90 149.80,71.30 C150.28,73.70 150.30,76.10 150.00,78.50 C149.70,80.90 148.65,83.30 148.00,85.70 C147.35,88.10 146.53,90.53 146.10,92.90 C145.67,95.27 145.37,97.63 145.40,99.90 C145.43,102.17 145.98,104.30 146.30,106.50 C146.62,108.70 147.13,111.52 147.30,113.10 C147.47,114.68 147.40,114.68 147.30,116.00 C147.20,117.32 147.30,119.18 146.70,121.00 C146.10,122.82 144.93,124.92 143.70,126.90 C142.47,128.88 140.68,130.92 139.30,132.90 C137.92,134.88 136.47,136.82 135.40,138.80 C134.33,140.78 133.82,142.28 132.90,144.80 C131.98,147.32 130.72,150.98 129.90,153.90 C129.08,156.82 128.52,159.50 128.00,162.30 C127.48,165.10 127.18,167.88 126.80,170.70 C126.42,173.52 125.90,176.38 125.70,179.20 C125.50,182.02 125.38,184.80 125.60,187.60 C125.82,190.40 126.08,193.17 127.00,196.00 C127.92,198.83 129.55,201.77 131.10,204.60 C132.65,207.43 134.87,210.18 136.30,213.00 C137.73,215.82 139.05,219.25 139.70,221.50 C140.35,223.75 140.12,225.32 140.20,226.50 C140.28,227.68 140.20,228.25 140.20,228.60 L97.80,228.60 C97.80,228.25 97.72,227.68 97.80,226.50 C97.88,225.32 97.65,223.75 98.30,221.50 C98.95,219.25 100.27,215.82 101.70,213.00 C103.13,210.18 105.35,207.43 106.90,204.60 C108.45,201.77 110.08,198.83 111.00,196.00 C111.92,193.17 112.18,190.40 112.40,187.60 C112.62,184.80 112.50,182.02 112.30,179.20 C112.10,176.38 111.58,173.52 111.20,170.70 C110.82,167.88 110.52,165.10 110.00,162.30 C109.48,159.50 108.92,156.82 108.10,153.90 C107.28,150.98 106.02,147.32 105.10,144.80 C104.18,142.28 103.67,140.78 102.60,138.80 C101.53,136.82 100.08,134.88 98.70,132.90 C97.32,130.92 95.53,128.88 94.30,126.90 C93.07,124.92 91.90,122.82 91.30,121.00 C90.70,119.18 90.80,117.32 90.70,116.00 C90.60,114.68 90.53,114.68 90.70,113.10 C90.87,111.52 91.38,108.70 91.70,106.50 C92.02,104.30 92.57,102.17 92.60,99.90 C92.63,97.63 92.33,95.27 91.90,92.90 C91.47,90.53 90.65,88.10 90.00,85.70 C89.35,83.30 88.30,80.90 88.00,78.50 C87.70,76.10 87.72,73.70 88.20,71.30 C88.68,68.90 89.65,66.52 90.90,64.10 C92.15,61.68 93.78,59.22 95.70,56.80 C97.62,54.38 100.17,52.00 102.40,49.60 C104.63,47.20 107.33,44.55 109.10,42.40 C110.87,40.25 112.05,38.38 113.00,36.70 C113.95,35.02 114.50,33.03 114.80,32.30 Z" fill="#0072B5" fill-opacity="0.16" stroke="#000" stroke-width="1.3"/>
<path d="M190.90,32.30 C191.15,33.03 191.47,35.02 192.40,36.70 C193.33,38.38 195.17,40.85 196.50,42.40 C197.83,43.95 199.02,44.63 200.40,46.00 C201.78,47.37 203.22,49.10 204.80,50.60 C206.38,52.10 208.32,53.45 209.90,55.00 C211.48,56.55 212.92,57.98 214.30,59.90 C215.68,61.82 217.38,64.52 218.20,66.50 C219.02,68.48 219.27,70.03 219.20,71.80 C219.13,73.57 218.80,75.12 217.80,77.10 C216.80,79.08 214.63,81.50 213.20,83.70 C211.77,85.90 210.17,88.08 209.20,90.30 C208.23,92.52 207.40,94.78 207.40,97.00 C207.40,99.22 208.28,101.40 209.20,103.60 C210.12,105.80 212.00,108.30 212.90,110.20 C213.80,112.10 214.40,113.32 214.60,115.00 C214.80,116.68 215.02,118.53 214.10,120.30 C213.18,122.07 211.08,123.83 209.10,125.60 C207.12,127.37 204.15,129.13 202.20,130.90 C200.25,132.67 198.63,134.45 197.40,136.20 C196.17,137.95 195.47,139.52 194.80,141.40 C194.13,143.28 193.83,145.23 193.40,147.50 C192.97,149.77 192.58,152.50 192.20,155.00 C191.83,157.50 191.47,159.58 191.15,162.50 C190.83,165.42 190.49,168.75 190.30,172.50 C190.11,176.25 190.13,181.58 190.00,185.00 C189.87,188.42 189.68,190.67 189.50,193.00 C189.32,195.33 188.97,197.17 188.90,199.00 C188.83,200.83 188.98,202.50 189.10,204.00 C189.22,205.50 189.40,206.67 189.60,208.00 C189.80,209.33 190.08,210.67 190.30,212.00 C190.52,213.33 190.77,214.33 190.90,216.00 C191.03,217.67 191.10,220.00 191.10,222.00 C191.10,224.00 191.18,226.50 190.90,228.00 C190.62,229.50 189.65,230.50 189.40,231.00 L186.40,231.00 C186.15,230.50 185.18,229.50 184.90,228.00 C184.62,226.50 184.70,224.00 184.70,222.00 C184.70,220.00 184.77,217.67 184.90,216.00 C185.03,214.33 185.28,213.33 185.50,212.00 C185.72,210.67 186.00,209.33 186.20,208.00 C186.40,206.67 186.58,205.50 186.70,204.00 C186.82,202.50 186.97,200.83 186.90,199.00 C186.83,197.17 186.48,195.33 186.30,193.00 C186.12,190.67 185.93,188.42 185.80,185.00 C185.67,181.58 185.69,176.25 185.50,172.50 C185.31,168.75 184.97,165.42 184.65,162.50 C184.33,159.58 183.97,157.50 183.60,155.00 C183.22,152.50 182.83,149.77 182.40,147.50 C181.97,145.23 181.67,143.28 181.00,141.40 C180.33,139.52 179.63,137.95 178.40,136.20 C177.17,134.45 175.55,132.67 173.60,130.90 C171.65,129.13 168.68,127.37 166.70,125.60 C164.72,123.83 162.62,122.07 161.70,120.30 C160.78,118.53 161.00,116.68 161.20,115.00 C161.40,113.32 162.00,112.10 162.90,110.20 C163.80,108.30 165.68,105.80 166.60,103.60 C167.52,101.40 168.40,99.22 168.40,97.00 C168.40,94.78 167.57,92.52 166.60,90.30 C165.63,88.08 164.03,85.90 162.60,83.70 C161.17,81.50 159.00,79.08 158.00,77.10 C157.00,75.12 156.67,73.57 156.60,71.80 C156.53,70.03 156.78,68.48 157.60,66.50 C158.42,64.52 160.12,61.82 161.50,59.90 C162.88,57.98 164.32,56.55 165.90,55.00 C167.48,53.45 169.42,52.10 171.00,50.60 C172.58,49.10 174.02,47.37 175.40,46.00 C176.78,44.63 177.97,43.95 179.30,42.40 C180.63,40.85 182.47,38.38 183.40,36.70 C184.33,35.02 184.65,33.03 184.90,32.30 Z" fill="#20854E" fill-opacity="0.16" stroke="#000" stroke-width="1.3"/>
<path d="M261.25,38.40 C261.43,39.50 261.88,42.52 262.30,45.00 C262.72,47.48 262.97,48.85 263.75,53.30 C264.53,57.75 266.02,65.58 267.00,71.70 C267.98,77.82 268.93,83.88 269.60,90.00 C270.28,96.12 270.78,103.20 271.05,108.40 C271.32,113.60 271.47,116.62 271.20,121.20 C270.93,125.78 270.23,131.30 269.40,135.90 C268.57,140.50 267.07,144.78 266.20,148.80 C265.33,152.82 264.53,157.02 264.20,160.00 C263.87,162.98 264.10,164.45 264.20,166.70 C264.30,168.95 264.45,171.25 264.80,173.50 C265.15,175.75 265.65,177.97 266.30,180.20 C266.95,182.43 267.73,184.67 268.70,186.90 C269.67,189.13 270.83,191.35 272.10,193.60 C273.37,195.85 274.90,198.15 276.30,200.40 C277.70,202.65 279.15,204.87 280.50,207.10 C281.85,209.33 283.27,211.55 284.40,213.80 C285.53,216.05 286.63,218.57 287.30,220.60 C287.97,222.63 288.22,224.67 288.40,226.00 C288.58,227.33 288.40,228.17 288.40,228.60 L226.20,228.60 C226.20,228.17 226.02,227.33 226.20,226.00 C226.38,224.67 226.63,222.63 227.30,220.60 C227.97,218.57 229.07,216.05 230.20,213.80 C231.33,211.55 232.75,209.33 234.10,207.10 C235.45,204.87 236.90,202.65 238.30,200.40 C239.70,198.15 241.23,195.85 242.50,193.60 C243.77,191.35 244.93,189.13 245.90,186.90 C246.87,184.67 247.65,182.43 248.30,180.20 C248.95,177.97 249.45,175.75 249.80,173.50 C250.15,171.25 250.30,168.95 250.40,166.70 C250.50,164.45 250.73,162.98 250.40,160.00 C250.07,157.02 249.27,152.82 248.40,148.80 C247.53,144.78 246.03,140.50 245.20,135.90 C244.37,131.30 243.68,125.78 243.40,121.20 C243.12,116.62 243.28,113.60 243.55,108.40 C243.82,103.20 244.32,96.12 245.00,90.00 C245.68,83.88 246.63,77.82 247.60,71.70 C248.58,65.58 250.07,57.75 250.85,53.30 C251.63,48.85 251.88,47.48 252.30,45.00 C252.72,42.52 253.18,39.50 253.35,38.40 Z" fill="#BC3C29" fill-opacity="0.16" stroke="#000" stroke-width="1.3"/>
<path d="M330.55,38.40 C330.86,39.50 331.64,42.50 332.40,45.00 C333.16,47.50 333.81,48.95 335.10,53.40 C336.39,57.85 338.66,65.58 340.15,71.70 C341.64,77.82 343.10,83.97 344.05,90.10 C345.00,96.23 345.55,103.30 345.85,108.50 C346.15,113.70 346.22,116.72 345.85,121.30 C345.47,125.88 344.27,132.72 343.60,136.00 C342.92,139.28 342.47,139.20 341.80,141.00 C341.13,142.80 340.28,144.72 339.60,146.80 C338.92,148.88 338.23,151.25 337.70,153.50 C337.17,155.75 336.75,158.03 336.40,160.30 C336.05,162.57 335.73,164.85 335.60,167.10 C335.47,169.35 335.53,171.55 335.60,173.80 C335.67,176.05 335.62,178.33 336.00,180.60 C336.38,182.87 337.03,185.13 337.90,187.40 C338.77,189.67 339.90,191.95 341.20,194.20 C342.50,196.45 344.17,198.65 345.70,200.90 C347.23,203.15 348.97,205.43 350.40,207.70 C351.83,209.97 353.28,212.25 354.30,214.50 C355.32,216.75 356.03,219.28 356.50,221.20 C356.97,223.12 357.00,224.77 357.10,226.00 C357.20,227.23 357.10,228.17 357.10,228.60 L295.70,228.60 C295.70,228.17 295.60,227.23 295.70,226.00 C295.80,224.77 295.83,223.12 296.30,221.20 C296.77,219.28 297.48,216.75 298.50,214.50 C299.52,212.25 300.97,209.97 302.40,207.70 C303.83,205.43 305.57,203.15 307.10,200.90 C308.63,198.65 310.30,196.45 311.60,194.20 C312.90,191.95 314.03,189.67 314.90,187.40 C315.77,185.13 316.42,182.87 316.80,180.60 C317.18,178.33 317.13,176.05 317.20,173.80 C317.27,171.55 317.33,169.35 317.20,167.10 C317.07,164.85 316.75,162.57 316.40,160.30 C316.05,158.03 315.63,155.75 315.10,153.50 C314.57,151.25 313.88,148.88 313.20,146.80 C312.52,144.72 311.67,142.80 311.00,141.00 C310.33,139.20 309.88,139.28 309.20,136.00 C308.52,132.72 307.32,125.88 306.95,121.30 C306.57,116.72 306.65,113.70 306.95,108.50 C307.25,103.30 307.80,96.23 308.75,90.10 C309.70,83.97 311.16,77.82 312.65,71.70 C314.14,65.58 316.41,57.85 317.70,53.40 C318.99,48.95 319.64,47.50 320.40,45.00 C321.16,42.50 321.94,39.50 322.25,38.40 Z" fill="#E18727" fill-opacity="0.16" stroke="#000" stroke-width="1.3"/>
<path d="M395.90,108.20 C396.13,108.33 396.90,108.53 397.30,109.00 C397.70,109.47 398.12,110.17 398.30,111.00 C398.48,111.83 398.40,112.83 398.40,114.00 C398.40,115.17 398.40,116.67 398.30,118.00 C398.20,119.33 397.90,120.67 397.80,122.00 C397.70,123.33 397.67,124.67 397.70,126.00 C397.73,127.33 398.05,128.83 398.00,130.00 C397.95,131.17 397.68,132.00 397.40,133.00 C397.12,134.00 396.60,135.00 396.30,136.00 C396.00,137.00 395.73,136.67 395.60,139.00 C395.47,141.33 395.48,147.00 395.50,150.00 C395.52,153.00 395.50,155.33 395.70,157.00 C395.90,158.67 396.33,159.00 396.70,160.00 C397.07,161.00 397.68,161.83 397.90,163.00 C398.12,164.17 397.98,165.67 398.00,167.00 C398.02,168.33 398.02,169.67 398.00,171.00 C397.98,172.33 398.05,173.75 397.90,175.00 C397.75,176.25 397.40,177.50 397.10,178.50 C396.80,179.50 396.35,180.08 396.10,181.00 C395.85,181.92 395.68,182.17 395.60,184.00 C395.52,185.83 395.48,190.00 395.60,192.00 C395.72,194.00 395.67,194.20 396.30,196.00 C396.93,197.80 398.02,200.30 399.40,202.80 C400.78,205.30 402.53,208.60 404.60,211.00 C406.67,213.40 409.15,215.30 411.80,217.20 C414.45,219.10 418.17,220.85 420.50,222.40 C422.83,223.95 424.88,225.48 425.80,226.50 C426.72,227.52 425.97,228.17 426.00,228.50 L364.60,228.50 C364.63,228.17 363.88,227.52 364.80,226.50 C365.72,225.48 367.77,223.95 370.10,222.40 C372.43,220.85 376.15,219.10 378.80,217.20 C381.45,215.30 383.93,213.40 386.00,211.00 C388.07,208.60 389.82,205.30 391.20,202.80 C392.58,200.30 393.67,197.80 394.30,196.00 C394.93,194.20 394.88,194.00 395.00,192.00 C395.12,190.00 395.08,185.83 395.00,184.00 C394.92,182.17 394.75,181.92 394.50,181.00 C394.25,180.08 393.80,179.50 393.50,178.50 C393.20,177.50 392.85,176.25 392.70,175.00 C392.55,173.75 392.62,172.33 392.60,171.00 C392.58,169.67 392.58,168.33 392.60,167.00 C392.62,165.67 392.48,164.17 392.70,163.00 C392.92,161.83 393.53,161.00 393.90,160.00 C394.27,159.00 394.70,158.67 394.90,157.00 C395.10,155.33 395.08,153.00 395.10,150.00 C395.12,147.00 395.13,141.33 395.00,139.00 C394.87,136.67 394.60,137.00 394.30,136.00 C394.00,135.00 393.48,134.00 393.20,133.00 C392.92,132.00 392.65,131.17 392.60,130.00 C392.55,128.83 392.87,127.33 392.90,126.00 C392.93,124.67 392.90,123.33 392.80,122.00 C392.70,120.67 392.40,119.33 392.30,118.00 C392.20,116.67 392.20,115.17 392.20,114.00 C392.20,112.83 392.12,111.83 392.30,111.00 C392.48,110.17 392.90,109.47 393.30,109.00 C393.70,108.53 394.47,108.33 394.70,108.20 Z" fill="#7876B1" fill-opacity="0.16" stroke="#000" stroke-width="1.3"/>
<path d="M468.70,47.40 C468.83,48.17 469.10,50.17 469.50,52.00 C469.90,53.83 469.98,54.27 471.10,58.40 C472.23,62.53 474.82,70.68 476.25,76.80 C477.68,82.92 478.77,88.98 479.65,95.10 C480.52,101.22 481.15,109.52 481.50,113.50 C481.85,117.48 482.01,115.93 481.75,119.00 C481.49,122.07 480.57,128.40 479.95,131.90 C479.32,135.40 478.57,137.52 478.00,140.00 C477.43,142.48 476.97,144.55 476.50,146.80 C476.03,149.05 475.68,151.25 475.20,153.50 C474.72,155.75 474.09,158.03 473.65,160.30 C473.21,162.57 472.83,164.85 472.55,167.10 C472.27,169.35 472.03,171.55 471.95,173.80 C471.87,176.05 471.71,178.33 472.05,180.60 C472.39,182.87 473.12,185.13 474.00,187.40 C474.88,189.67 476.00,191.95 477.35,194.20 C478.70,196.45 480.47,198.65 482.10,200.90 C483.73,203.15 485.57,205.43 487.15,207.70 C488.73,209.97 490.35,212.25 491.60,214.50 C492.85,216.75 494.03,219.28 494.65,221.20 C495.27,223.12 495.19,224.77 495.30,226.00 C495.41,227.23 495.30,228.17 495.30,228.60 L433.70,228.60 C433.70,228.17 433.59,227.23 433.70,226.00 C433.81,224.77 433.73,223.12 434.35,221.20 C434.97,219.28 436.15,216.75 437.40,214.50 C438.65,212.25 440.27,209.97 441.85,207.70 C443.43,205.43 445.27,203.15 446.90,200.90 C448.53,198.65 450.30,196.45 451.65,194.20 C453.00,191.95 454.12,189.67 455.00,187.40 C455.88,185.13 456.61,182.87 456.95,180.60 C457.29,178.33 457.13,176.05 457.05,173.80 C456.97,171.55 456.73,169.35 456.45,167.10 C456.17,164.85 455.79,162.57 455.35,160.30 C454.91,158.03 454.28,155.75 453.80,153.50 C453.32,151.25 452.97,149.05 452.50,146.80 C452.03,144.55 451.57,142.48 451.00,140.00 C450.43,137.52 449.68,135.40 449.05,131.90 C448.43,128.40 447.51,122.07 447.25,119.00 C446.99,115.93 447.15,117.48 447.50,113.50 C447.85,109.52 448.48,101.22 449.35,95.10 C450.23,88.98 451.32,82.92 452.75,76.80 C454.18,70.68 456.77,62.53 457.90,58.40 C459.02,54.27 459.10,53.83 459.50,52.00 C459.90,50.17 460.17,48.17 460.30,47.40 Z" fill="#6F99AD" fill-opacity="0.16" stroke="#000" stroke-width="1.3"/>
<line x1="119.00" y1="32.30" x2="119.00" y2="228.60" stroke="#151515" stroke-width="1.35"/>
<rect x="115.80" y="77.00" width="6.4" height="93.50" fill="#0072B5" stroke="#000" stroke-width="1.15"/>
<line x1="115.80" y1="119.00" x2="122.20" y2="119.00" stroke="#000" stroke-width="2"/>
<line x1="187.90" y1="32.30" x2="187.90" y2="195.00" stroke="#151515" stroke-width="1.35"/>
<rect x="184.70" y="70.60" width="6.4" height="48.40" fill="#20854E" stroke="#000" stroke-width="1.15"/>
<line x1="184.70" y1="93.60" x2="191.10" y2="93.60" stroke="#000" stroke-width="2"/>
<line x1="257.30" y1="38.70" x2="257.30" y2="228.60" stroke="#151515" stroke-width="1.35"/>
<rect x="254.10" y="118.40" width="6.4" height="110.20" fill="#BC3C29" stroke="#000" stroke-width="1.15"/>
<line x1="254.10" y1="215.20" x2="260.50" y2="215.20" stroke="#000" stroke-width="2"/>
<line x1="326.40" y1="38.70" x2="326.40" y2="228.60" stroke="#151515" stroke-width="1.35"/>
<rect x="323.20" y="110.30" width="6.4" height="118.30" fill="#E18727" stroke="#000" stroke-width="1.15"/>
<line x1="323.20" y1="159.60" x2="329.60" y2="159.60" stroke="#000" stroke-width="2"/>
<line x1="395.30" y1="201.80" x2="395.30" y2="228.50" stroke="#151515" stroke-width="1.35"/>
<rect x="392.10" y="215.20" width="6.4" height="13.00" fill="#7876B1" stroke="#000" stroke-width="1.15"/>
<line x1="392.10" y1="228.20" x2="398.50" y2="228.20" stroke="#000" stroke-width="2"/>
<line x1="464.50" y1="47.10" x2="464.50" y2="228.40" stroke="#151515" stroke-width="1.35"/>
<rect x="461.30" y="118.70" width="6.4" height="109.70" fill="#6F99AD" stroke="#000" stroke-width="1.15"/>
<line x1="461.30" y1="180.10" x2="467.70" y2="180.10" stroke="#000" stroke-width="2"/>
<circle cx="187.90" cy="201.20" r="3.00" fill="#000"/>
<circle cx="187.90" cy="216.30" r="3.30" fill="#000"/>
<circle cx="188.20" cy="219.50" r="3.30" fill="#000"/>
<circle cx="187.60" cy="222.50" r="3.30" fill="#000"/>
<circle cx="187.90" cy="228.20" r="3.30" fill="#000"/>
<circle cx="395.50" cy="111.00" r="2.70" fill="#000"/>
<circle cx="395.50" cy="117.80" r="2.70" fill="#000"/>
<circle cx="395.50" cy="130.40" r="2.70" fill="#000"/>
<circle cx="395.50" cy="165.80" r="2.70" fill="#000"/>
<circle cx="395.50" cy="174.80" r="2.70" fill="#000"/>
<path d="M77.6,22.3 V237.7 H505.2" fill="none" stroke="#000" stroke-width="1.5" stroke-linejoin="miter"/>
<line x1="73" y1="46.10" x2="77.3" y2="46.10" stroke="#000" stroke-width="1.1"/>
<text x="67.5" y="50.30" font-size="11.5" text-anchor="end">10000</text>
<line x1="73" y1="91.60" x2="77.3" y2="91.60" stroke="#000" stroke-width="1.1"/>
<text x="67.5" y="95.80" font-size="11.5" text-anchor="end">1000</text>
<line x1="73" y1="137.50" x2="77.3" y2="137.50" stroke="#000" stroke-width="1.1"/>
<text x="67.5" y="141.70" font-size="11.5" text-anchor="end">100</text>
<line x1="73" y1="180.75" x2="77.3" y2="180.75" stroke="#000" stroke-width="1.1"/>
<text x="67.5" y="184.95" font-size="11.5" text-anchor="end">10</text>
<line x1="73" y1="214.50" x2="77.3" y2="214.50" stroke="#000" stroke-width="1.1"/>
<text x="67.5" y="218.70" font-size="11.5" text-anchor="end">1</text>
<line x1="73" y1="228.25" x2="77.3" y2="228.25" stroke="#000" stroke-width="1.1"/>
<text x="67.5" y="232.45" font-size="11.5" text-anchor="end">0</text>
<line x1="119.00" y1="237.6" x2="119.00" y2="242" stroke="#000" stroke-width="1.1"/>
<line x1="187.90" y1="237.6" x2="187.90" y2="242" stroke="#000" stroke-width="1.1"/>
<line x1="257.30" y1="237.6" x2="257.30" y2="242" stroke="#000" stroke-width="1.1"/>
<line x1="326.40" y1="237.6" x2="326.40" y2="242" stroke="#000" stroke-width="1.1"/>
<line x1="395.30" y1="237.6" x2="395.30" y2="242" stroke="#000" stroke-width="1.1"/>
<line x1="464.50" y1="237.6" x2="464.50" y2="242" stroke="#000" stroke-width="1.1"/>
<text transform="translate(27,129.7) rotate(-90) scale(0.80,1)" font-size="14" text-anchor="middle">Antibody level (BAU/mL)</text>
<text transform="translate(122.90,251.80) rotate(-45) scale(1.000,1)" font-size="12.00" text-anchor="end">Global</text>
<text transform="translate(191.65,251.50) rotate(-45) scale(1.033,1)" font-size="12.00" text-anchor="end">No risk factor</text>
<text transform="translate(262.90,250.60) rotate(-45) scale(0.971,1)" font-size="12.00" text-anchor="end">Recent HSCT</text>
<text transform="translate(325.00,251.50) rotate(-45) scale(0.980,1)" font-size="12.00" text-anchor="end">Immunosupressive</text>
<text transform="translate(335.00,261.90) rotate(-45) scale(1.030,1)" font-size="12.00" text-anchor="end">treatments</text>
<text transform="translate(399.50,252.30) rotate(-45) scale(1.007,1)" font-size="12.00" text-anchor="end">Rituximab</text>
<text transform="translate(464.60,251.50) rotate(-45) scale(1.018,1)" font-size="12.00" text-anchor="end">Lymphocytes count</text>
<text transform="translate(474.70,262.00) rotate(-45) scale(1.076,1)" font-size="12.00" text-anchor="end">&lt;1G/L</text>
<rect x="103.25" y="403.60" width="30.5" height="165.15" fill="#0072B5"/>
<rect x="173.25" y="366.25" width="30.5" height="202.50" fill="#20854E"/>
<rect x="243.25" y="470.75" width="30.5" height="98.00" fill="#BC3C29"/>
<rect x="313.25" y="450.75" width="30.5" height="118.00" fill="#E18727"/>
<rect x="383.25" y="532.25" width="30.5" height="36.50" fill="#7876B1"/>
<rect x="448.75" y="457.50" width="30.5" height="111.25" fill="#6F99AD"/>
<path d="M112.00,396.75 H125.00 M118.50,396.75 V410.50 M112.00,410.50 H125.00" stroke="#111" stroke-width="1.45" fill="none"/>
<path d="M182.00,361.00 H195.00 M188.50,361.00 V371.75 M182.00,371.75 H195.00" stroke="#111" stroke-width="1.45" fill="none"/>
<path d="M252.00,452.75 H265.00 M258.50,452.75 V488.75 M252.00,488.75 H265.00" stroke="#111" stroke-width="1.45" fill="none"/>
<path d="M322.00,435.50 H335.00 M328.50,435.50 V465.75 M322.00,465.75 H335.00" stroke="#111" stroke-width="1.45" fill="none"/>
<path d="M392.00,493.75 H405.00 M398.50,493.75 V556.75 M392.00,556.75 H405.00" stroke="#111" stroke-width="1.45" fill="none"/>
<path d="M457.50,442.00 H470.50 M464.00,442.00 V474.25 M457.50,474.25 H470.50" stroke="#111" stroke-width="1.45" fill="none"/>
<path d="M77.6,352.3 V579.3 H505.2" fill="none" stroke="#000" stroke-width="1.5" stroke-linejoin="miter"/>
<line x1="73.3" y1="358.25" x2="77.4" y2="358.25" stroke="#000" stroke-width="1.1"/>
<text transform="translate(68.6,362.05) scale(0.93,1)" font-size="11.5" text-anchor="end">100</text>
<line x1="73.3" y1="410.88" x2="77.4" y2="410.88" stroke="#000" stroke-width="1.1"/>
<text transform="translate(68.6,414.68) scale(0.93,1)" font-size="11.5" text-anchor="end">75</text>
<line x1="73.3" y1="463.50" x2="77.4" y2="463.50" stroke="#000" stroke-width="1.1"/>
<text transform="translate(68.6,467.30) scale(0.93,1)" font-size="11.5" text-anchor="end">50</text>
<line x1="73.3" y1="516.12" x2="77.4" y2="516.12" stroke="#000" stroke-width="1.1"/>
<text transform="translate(68.6,519.92) scale(0.93,1)" font-size="11.5" text-anchor="end">25</text>
<line x1="73.3" y1="568.75" x2="77.4" y2="568.75" stroke="#000" stroke-width="1.1"/>
<text transform="translate(68.6,572.55) scale(0.93,1)" font-size="11.5" text-anchor="end">0</text>
<line x1="118.50" y1="579.25" x2="118.50" y2="583.8" stroke="#000" stroke-width="1.1"/>
<line x1="187.50" y1="579.25" x2="187.50" y2="583.8" stroke="#000" stroke-width="1.1"/>
<line x1="256.40" y1="579.25" x2="256.40" y2="583.8" stroke="#000" stroke-width="1.1"/>
<line x1="325.70" y1="579.25" x2="325.70" y2="583.8" stroke="#000" stroke-width="1.1"/>
<line x1="394.50" y1="579.25" x2="394.50" y2="583.8" stroke="#000" stroke-width="1.1"/>
<line x1="463.75" y1="579.25" x2="463.75" y2="583.8" stroke="#000" stroke-width="1.1"/>
<text transform="translate(40.9,464.4) rotate(-90) scale(0.888,1)" font-size="13" text-anchor="middle">Detectable anti-spike antibodies (%)</text>
<text transform="translate(122.90,595.20) rotate(-45) scale(1.000,1)" font-size="12.00" text-anchor="end">Global</text>
<text transform="translate(191.65,594.90) rotate(-45) scale(1.033,1)" font-size="12.00" text-anchor="end">No risk factor</text>
<text transform="translate(262.90,594.00) rotate(-45) scale(0.971,1)" font-size="12.00" text-anchor="end">Recent HSCT</text>
<text transform="translate(325.00,594.90) rotate(-45) scale(0.980,1)" font-size="12.00" text-anchor="end">Immunosupressive</text>
<text transform="translate(335.00,605.30) rotate(-45) scale(1.030,1)" font-size="12.00" text-anchor="end">treatments</text>
<text transform="translate(399.50,595.70) rotate(-45) scale(1.007,1)" font-size="12.00" text-anchor="end">Rituximab</text>
<text transform="translate(464.60,594.90) rotate(-45) scale(1.018,1)" font-size="12.00" text-anchor="end">Lymphocytes count</text>
<text transform="translate(474.70,605.40) rotate(-45) scale(1.076,1)" font-size="12.00" text-anchor="end">&lt;1G/L</text>
</svg>
</body></html>
